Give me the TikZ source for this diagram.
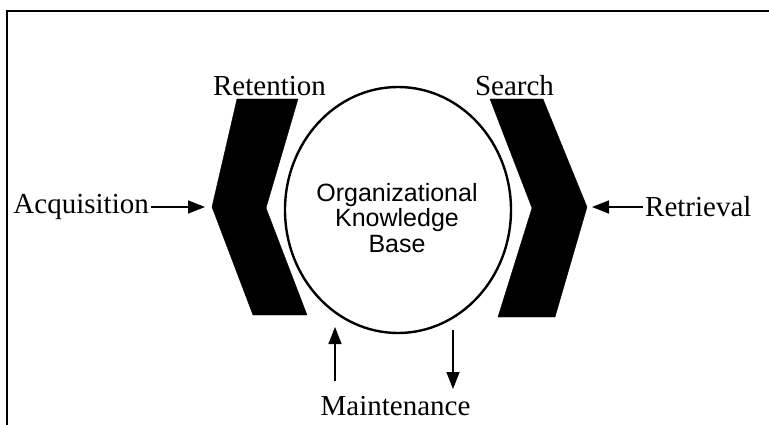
\documentclass[tikz,border=0pt]{standalone}
\usepackage{fontspec}
\setmainfont{Liberation Serif}
\newfontfamily\kbfont{Liberation Sans}
\usetikzlibrary{arrows.meta,shapes.geometric}
\tikzset{
    lbl/.style={inner sep=2pt, font=\fontsize{29}{29}\selectfont},
    arr/.style={-{Triangle[length=17pt,width=13pt]}, line width=1.5pt},
    chev/.style={fill=black, draw=black, line join=miter}
}
\begin{document}
\begin{tikzpicture}[x=1pt,y=-1pt]
        \useasboundingbox (0,0) rectangle (769,425);
        \draw[line width=1.5pt] (7,425) -- (7,11) -- (769,11);
        % the two chevrons
        \filldraw[chev] (237,99) -- (298,99) -- (266,208) -- (307,315)
            -- (253,315) -- (212,207) -- cycle;
        \filldraw[chev] (490,99) -- (543,99) -- (587,207) -- (555,317)
            -- (498,317) -- (532,208) -- cycle;
        \node[ellipse, draw, line width=2.4pt, minimum width=226, minimum height=246]
            (kb) at (398,210) {};
        \node[align=center, font=\kbfont\fontsize{25}{25.5}\selectfont] (kbtxt)
            at (397,218) {Organizational\\Knowledge\\Base};
        \node[lbl] (ret) at (269.5,86) {Retention};
        \node[lbl] (srch) at (514.5,86) {Search};
        \node[lbl, anchor=east] (acq) at (151,207) {Acquisition};
        \node[lbl, anchor=west] (retr) at (643,207) {Retrieval};
        \node[lbl, anchor=base] (mnt) at (395.5,415) {Maintenance};
        \coordinate (ltip) at (205,207);
        \coordinate (rtip) at (592,207);
        \coordinate (upfoot) at (335,381);
        \coordinate (uptip) at (335,327);
        \coordinate (dnfoot) at (453,330);
        \coordinate (dntip) at (453,389);
        \draw[arr] (acq) -- (ltip);
        \draw[arr] (retr) -- (rtip);
        \draw[arr] (upfoot) -- (uptip);
        \draw[arr] (dnfoot) -- (dntip);
    \end{tikzpicture}
\end{document}
